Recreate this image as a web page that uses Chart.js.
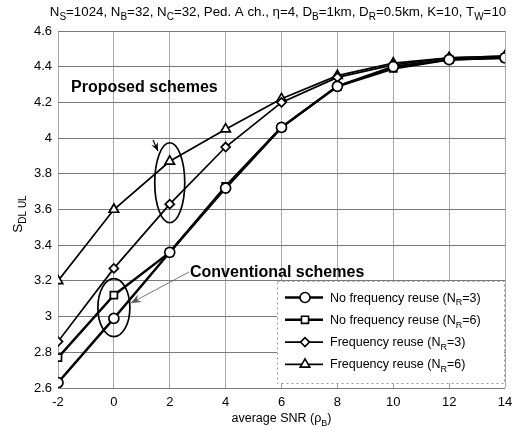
<!DOCTYPE html>
<html>
<head>
<meta charset="utf-8">
<script src="https://cdn.jsdelivr.net/npm/chart.js@4"></script>
<style>
  html,body{margin:0;padding:0;background:#fff;}
  #wrap{width:527px;height:432px;}
</style>
</head>
<body>
<div id="wrap"><canvas id="c" width="527" height="432"></canvas></div>
<script>
const snr = [-2, 0, 2, 4, 6, 8, 10, 12, 14];
const noReuse3 = [2.63, 2.99, 3.36, 3.72, 4.06, 4.29, 4.40, 4.44, 4.45];
const noReuse6 = [2.77, 3.12, 3.36, 3.73, 4.06, 4.29, 4.39, 4.44, 4.45];
const reuse3   = [2.86, 3.27, 3.63, 3.95, 4.20, 4.34, 4.41, 4.45, 4.46];
const reuse6   = [3.20, 3.60, 3.87, 4.05, 4.22, 4.35, 4.42, 4.45, 4.46];
const yTicks = [2.6, 2.8, 3, 3.2, 3.4, 3.6, 3.8, 4, 4.2, 4.4, 4.6];
const xTicks = [-2, 0, 2, 4, 6, 8, 10, 12, 14];

const FONT = "'Liberation Sans', Arial, sans-serif";
const pts = ys => snr.map((x,i)=>({x, y:ys[i]}));

const series = [
  {label:"No frequency reuse", sub:"R", tail:"=3)", data:noReuse3, style:"circle", r:5, w:2.4},
  {label:"No frequency reuse", sub:"R", tail:"=6)", data:noReuse6, style:"rect", r:5, w:2.4},
  {label:"Frequency reuse", sub:"R", tail:"=3)", data:reuse3, style:"rectRot", r:4.5, w:1.7},
  {label:"Frequency reuse", sub:"R", tail:"=6)", data:reuse6, style:"triangle", r:5.5, w:1.7},
];

// draw text made of [text, isSub] parts
function richText(ctx, parts, x, y, size, align) {
  ctx.save();
  ctx.textBaseline = "alphabetic";
  ctx.textAlign = "left";
  const subSize = Math.round(size*0.75);
  let total = 0;
  parts.forEach(([t,s])=>{ ctx.font = `${s?subSize:size}px ${FONT}`; total += ctx.measureText(t).width; });
  let cx = align==="center" ? x-total/2 : x;
  parts.forEach(([t,s])=>{
    ctx.font = `${s?subSize:size}px ${FONT}`;
    ctx.fillText(t, cx, s ? y+size*0.3 : y);
    cx += ctx.measureText(t).width;
  });
  ctx.restore();
}

function arrow(ctx, x1, y1, x2, y2, color, lw, head) {
  ctx.save();
  ctx.strokeStyle = color; ctx.fillStyle = color; ctx.lineWidth = lw;
  ctx.beginPath(); ctx.moveTo(x1,y1); ctx.lineTo(x2,y2); ctx.stroke();
  const a = Math.atan2(y2-y1, x2-x1);
  ctx.beginPath();
  ctx.moveTo(x2,y2);
  ctx.lineTo(x2-head*Math.cos(a-0.4), y2-head*Math.sin(a-0.4));
  ctx.lineTo(x2-head*0.6*Math.cos(a), y2-head*0.6*Math.sin(a));
  ctx.lineTo(x2-head*Math.cos(a+0.4), y2-head*Math.sin(a+0.4));
  ctx.closePath(); ctx.fill();
  ctx.restore();
}

const decor = {
  id:"decor",
  afterDraw(chart) {
    const ctx = chart.ctx, xs = chart.scales.x, ys = chart.scales.y;
    ctx.save();
    ctx.fillStyle = "#000";
    // title
    richText(ctx, [["N",0],["S",1],["=1024, N",0],["B",1],["=32, N",0],["C",1],
      ["=32, Ped. A ch., η=4, D",0],["B",1],["=1km, D",0],["R",1],["=0.5km, K=10, T",0],["W",1],["=10",0]],
      278, 16, 13.3, "center");
    // x label
    richText(ctx, [["average SNR (ρ",0],["B",1],[")",0]], (xs.left+xs.right)/2, 422, 12.5, "center");
    // y label
    ctx.save();
    ctx.translate(22, 214);
    ctx.rotate(-Math.PI/2);
    richText(ctx, [["S",0],["DL UL",1]], 0, 0, 13.5, "center");
    ctx.restore();

    // ellipses
    ctx.strokeStyle = "#000"; ctx.lineWidth = 1.7;
    ctx.beginPath();
    ctx.ellipse(xs.getPixelForValue(2), ys.getPixelForValue(3.75), 15, 40, 0, 0, Math.PI*2);
    ctx.stroke();
    ctx.beginPath();
    ctx.ellipse(xs.getPixelForValue(0), ys.getPixelForValue(3.05), 16, 29, 0, 0, Math.PI*2);
    ctx.stroke();

    // annotation texts
    ctx.font = `bold 16px ${FONT}`;
    ctx.textAlign = "left"; ctx.textBaseline = "alphabetic";
    ctx.fillText("Proposed schemes", 71, 92);
    ctx.fillText("Conventional schemes", 190, 277);
    arrow(ctx, 153, 140, 158, 151, "#000", 1.2, 9);
    arrow(ctx, 189, 272, 131, 303, "#555", 0.8, 11);

    // legend
    const lx = 277, ly = 281, lw = 227, lh = 102;
    ctx.fillStyle = "#fff";
    ctx.fillRect(lx, ly, lw, lh);
    ctx.strokeStyle = "#999"; ctx.lineWidth = 1; ctx.setLineDash([2,3]);
    ctx.strokeRect(lx+0.5, ly+0.5, lw, lh);
    ctx.setLineDash([]);
    series.forEach((s,i)=>{
      const yy = 297.5 + i*22.3;
      ctx.strokeStyle = "#000"; ctx.lineWidth = s.w;
      ctx.beginPath(); ctx.moveTo(285, yy); ctx.lineTo(323, yy); ctx.stroke();
      ctx.lineWidth = 1.6; ctx.fillStyle = "#fff";
      Chart.helpers.drawPoint(ctx, {pointStyle:s.style, radius:s.r, borderWidth:1.6}, 305, yy);
      ctx.fillStyle = "#000";
      richText(ctx, [[s.label+" (N",0],[s.sub,1],[s.tail,0]], 330, yy+4, 12.5, "left");
    });
    ctx.restore();
  }
};

new Chart(document.getElementById("c"), {
  type:"line",
  data:{
    datasets: series.map(s=>({
      label:s.label, data:pts(s.data),
      borderColor:"#000", borderWidth:s.w,
      pointStyle:s.style, pointRadius:s.r, pointBorderWidth:1.7,
      pointBackgroundColor:"#fff", pointBorderColor:"#000",
      fill:false, tension:0,
    })),
  },
  options:{
    responsive:false, animation:false,
    layout:{padding:{top:31, right:22, left:0, bottom:0}},
    plugins:{legend:{display:false}, tooltip:{enabled:false}},
    scales:{
      x:{
        type:"linear", min:-2, max:14,
        afterBuildTicks:sc=>{ sc.ticks = xTicks.map(v=>({value:v})); },
        afterFit:sc=>{ sc.height = 44; },
        grid:{color:"#a8a8a8", lineWidth:1, borderDash:[1,4], drawTicks:false},
        border:{display:false},
        ticks:{color:"#000", font:{family:FONT, size:13}, padding:7, maxRotation:0},
      },
      y:{
        min:2.6, max:4.6,
        afterBuildTicks:sc=>{ sc.ticks = yTicks.map(v=>({value:v})); },
        afterFit:sc=>{ sc.width = 58; },
        grid:{color:"#7a7a7a", lineWidth:1, borderDash:[7,5], drawTicks:false},
        border:{display:false},
        ticks:{color:"#000", font:{family:FONT, size:13}, padding:6, callback:v=>String(v)},
      },
    },
  },
  plugins:[decor],
});
</script>
</body>
</html>
